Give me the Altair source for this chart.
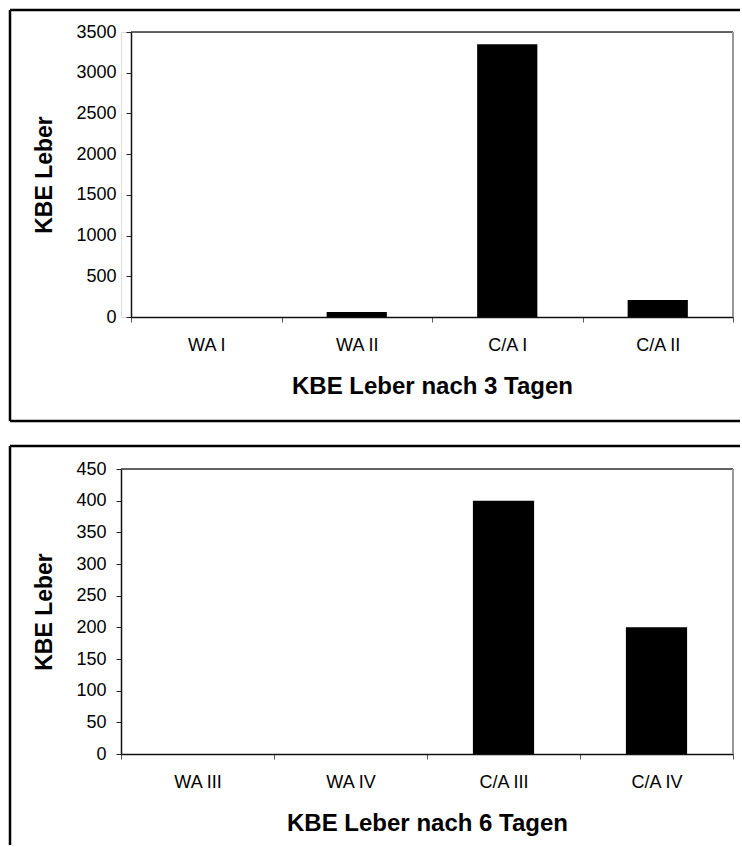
import altair as alt
import pandas as pd

# ---- data ----
cats_top = ["WA I", "WA II", "C/A I", "C/A II"]
vals_top = [0, 60, 3350, 210]
ticks_top = [0, 500, 1000, 1500, 2000, 2500, 3000, 3500]

cats_bot = ["WA III", "WA IV", "C/A III", "C/A IV"]
vals_bot = [0, 0, 400, 200]
ticks_bot = [0, 50, 100, 150, 200, 250, 300, 350, 400, 450]

y_title = "KBE Leber"
x_title_top = "KBE Leber nach 3 Tagen"
x_title_bot = "KBE Leber nach 6 Tagen"

FONT = "Liberation Sans"
FRAME_W = 2.5


def rule(x, y, x2=None, y2=None, color="black", width=FRAME_W):
    enc = dict(x=alt.value(x), y=alt.value(y))
    if x2 is not None:
        enc["x2"] = alt.value(x2)
    if y2 is not None:
        enc["y2"] = alt.value(y2)
    return alt.Chart(pd.DataFrame({"k": [0]})).mark_rule(
        color=color, strokeWidth=width
    ).encode(**enc)


def panel(cats, vals, ticks, ymax, xtitle, w, h, x0, frame, bottom):
    fl, ft, fr, fb = frame
    df = pd.DataFrame({"cat": cats, "val": vals})
    bars = alt.Chart(df).mark_bar(
        color="black", width=alt.RelativeBandSize(0.4)
    ).encode(
        x=alt.X(
            "cat:N", sort=cats, title=xtitle,
            scale=alt.Scale(paddingInner=0, paddingOuter=0, range=[x0, w]),
            axis=alt.Axis(
                labelAngle=0, tickBand="extent", tickSize=5, tickColor="#555",
                domainColor="#111", domainWidth=1.5, labelPadding=14,
                titlePadding=20, labelFontSize=18, titleFontSize=24,
                titleX=(x0 + w) / 2,
            ),
        ),
        y=alt.Y(
            "val:Q", title=y_title,
            scale=alt.Scale(domain=[0, ymax], nice=False),
            axis=alt.Axis(
                values=ticks, grid=False, tickSize=5, tickColor="#222",
                domainColor="#111", domainWidth=1.5, labelPadding=10,
                titlePadding=19, labelFontSize=18, titleFontSize=23,
                format="d", offset=-x0,
            ),
        ),
    )
    layers = [
        bars,
        rule(x0, 0, x2=w, color="#333", width=1.5),
        rule(w, 0, y2=h, color="#999", width=2),
        rule(fl, ft, x2=fr),
        rule(fl, ft, y2=fb),
    ]
    if bottom:
        layers.append(rule(fl, fb, x2=fr))
    return alt.layer(*layers).properties(width=w, height=h)


# top panel: plot area begins 10px right of the group origin
top = panel(cats_top, vals_top, ticks_top, 3500, x_title_top,
            612, 285, 10, (-111, -22, 619, 389), True)
bot = panel(cats_bot, vals_bot, ticks_bot, 450, x_title_bot,
            612, 285, 0, (-111, -23, 619, 376), False)

chart = alt.vconcat(top, bot, spacing=21).properties(
    padding={"left": 8, "top": 8, "right": 0, "bottom": 0}
).configure_view(strokeWidth=0).configure_axis(
    labelFont=FONT, titleFont=FONT, labelColor="#333", titleColor="#000",
    titleFontWeight="bold",
).configure(background="white")

chart.save("out.html", embed_options={"renderer": "svg", "actions": False})
